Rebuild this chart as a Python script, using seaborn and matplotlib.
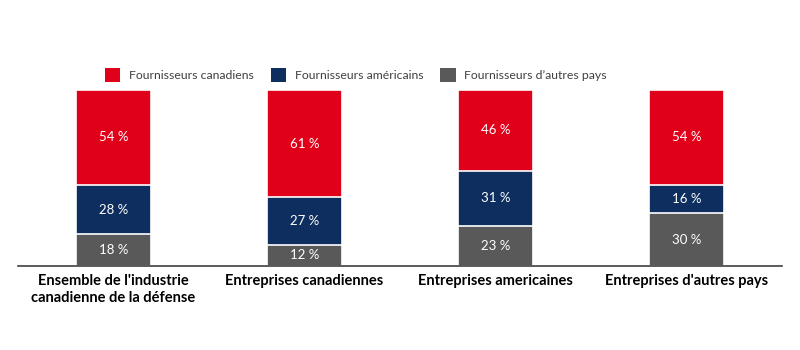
import matplotlib
matplotlib.use("Agg")
import matplotlib.pyplot as plt
import seaborn as sns
import pandas as pd
import numpy as np
from matplotlib.patches import Patch

categories = ["Ensemble de l'industrie\ncanadienne de la défense",
              "Entreprises canadiennes",
              "Entreprises americaines",
              "Entreprises d'autres pays"]
canadiens = [54, 61, 46, 54]
americains = [28, 27, 31, 16]
autres = [18, 12, 23, 30]
series_names = ["Fournisseurs canadiens", "Fournisseurs américains", "Fournisseurs d’autres pays"]
colors = ["#E1001A", "#0D2E5F", "#595959"]

sns.set_theme(style="white")
plt.rcParams['font.family'] = ['Lato', 'DejaVu Sans']

df = pd.DataFrame({"cat": categories, "can": canadiens, "ame": americains, "aut": autres})
df["top_ame"] = df["aut"] + df["ame"]
df["top_can"] = df["top_ame"] + df["can"]

fig = plt.figure(figsize=(8, 3.5), dpi=100)
ax = fig.add_axes([0.0225, 0.24, 0.955, 0.503])

w = 0.39
for col, c in [("top_can", colors[0]), ("top_ame", colors[1]), ("aut", colors[2])]:
    sns.barplot(data=df, x="cat", y=col, color=c, width=w, ax=ax,
                edgecolor="white", linewidth=1.2, saturation=1, errorbar=None)

for i in range(len(categories)):
    b = 0
    for vals in [autres, americains, canadiens]:
        v = vals[i]
        ax.text(i, b + v / 2, f"{v} %", ha="center", va="center", color="white", fontsize=9.5)
        b += v

ax.set_ylim(0, 100)
ax.set_xlim(-0.5, len(categories) - 0.5)
ax.set_ylabel("")
ax.set_xlabel("")
ax.set_yticks([])
for s in ["top", "left", "right"]:
    ax.spines[s].set_visible(False)
ax.spines["bottom"].set_color("#404040")
ax.spines["bottom"].set_linewidth(1.2)
ax.set_xticks(range(len(categories)))
ax.set_xticklabels(categories, fontsize=10.5, fontweight="bold", color="black")
ax.tick_params(axis="x", which="major", length=0, pad=6)
ax.set_xticks(np.arange(-0.5, len(categories), 1), minor=True)
ax.tick_params(axis="x", which="minor", length=5, width=1.2, color="#404040", direction="out")

handles = [Patch(facecolor=c, edgecolor="none") for c in colors]
fig.legend(handles, series_names, loc="center", bbox_to_anchor=(0.445, 1 - 75 / 350), ncol=3,
           frameon=False, fontsize=8.8, handlelength=1.25, handleheight=1.5,
           columnspacing=1.4, handletextpad=0.7, labelcolor="#404040")

fig.savefig("out.png", dpi=100, facecolor="white")
